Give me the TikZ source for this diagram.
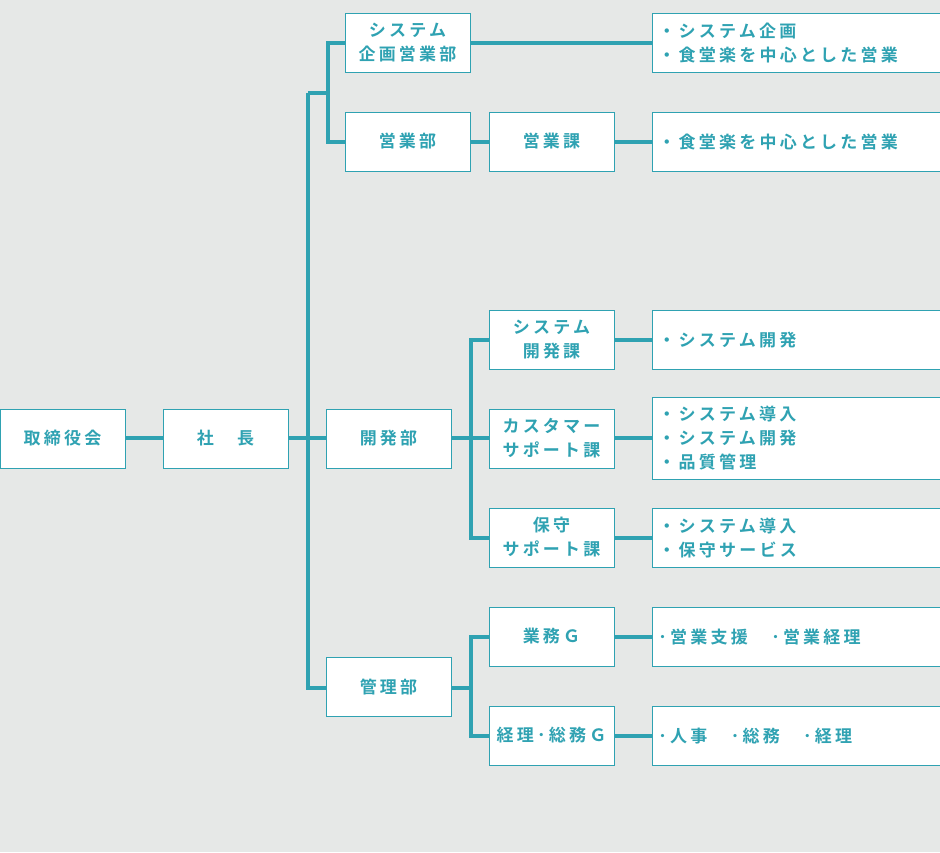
\documentclass[tikz,border=0pt]{standalone}
\usepackage{fontspec}
\newfontfamily\jp[LetterSpace=19]{Noto Sans CJK JP Bold}
\definecolor{teal1}{HTML}{2FA2B2}
\definecolor{bg}{HTML}{E6E8E7}
\begin{document}
\begin{tikzpicture}[x=1pt,y=-1pt,
 box/.style={draw=teal1,line width=0.8pt,fill=white,inner sep=0pt,font=\jp\fontsize{17}{24}\selectfont,text=teal1,align=center},
 ln/.style={draw=teal1,line width=4pt}]
\fill[bg] (0,0) rectangle (940,852);
\useasboundingbox (0,0) rectangle (940,852);
\newcommand{\bx}[6]{\node[box,minimum width=#4-#2,minimum height=#5-#3] (#1) at ({(#2+#4)/2},{(#3+#5)/2}) {#6};}
\newcommand{\rb}[5]{\node[box,minimum width=288,minimum height=#3-#2,anchor=north west,text width=282,align=left,inner xsep=6pt] (#1) at (652,#2) {#4};}
% connectors
\coordinate (p1) at (308,93); \coordinate (p2) at (308,688);
\coordinate (q1) at (328,43); \coordinate (q2) at (328,142);
\coordinate (r1) at (471,340); \coordinate (r2) at (471,538);
\coordinate (s1) at (471,637); \coordinate (s2) at (471,736);
\draw[ln] (125,438) -- (163,438);
\draw[ln] (288,438) -- (326,438);
\draw[ln] (p1) -- (p2) -- (326,688);
\draw[ln] (p1) -- (328,93);
\draw[ln] (345,43) -- (q1) -- (q2) -- (345,142);
\draw[ln] (470,43) -- (652,43);
\draw[ln] (470,142) -- (652,142);
\draw[ln] (451,438) -- (489,438);
\draw[ln] (489,340) -- (r1) -- (r2) -- (489,538);
\draw[ln] (451,688) -- (471,688);
\draw[ln] (489,637) -- (s1) -- (s2) -- (489,736);
\foreach \y in {340,438,538,637,736} \draw[ln] (614,\y) -- (652,\y);
% nodes
\bx{a}{0}{409}{125}{468}{取締役会}
\bx{b}{163}{409}{288}{468}{社　長}
\bx{c}{345}{13}{470}{72}{システム\\企画営業部}
\bx{d}{345}{112}{470}{171}{営業部}
\bx{e}{489}{112}{614}{171}{営業課}
\bx{f}{326}{409}{451}{468}{開発部}
\bx{g}{489}{310}{614}{369}{システム\\開発課}
\bx{h}{489}{409}{614}{468}{カスタマー\\サポート課}
\bx{i}{489}{508}{614}{567}{保守\\サポート課}
\bx{j}{326}{657}{451}{716}{管理部}
\bx{k}{489}{607}{614}{666}{業務Ｇ}
\bx{l}{489}{706}{614}{765}{経理･総務Ｇ}
\rb{r1b}{13}{72}{・システム企画\\・食堂楽を中心とした営業}{}
\rb{r2b}{112}{171}{・食堂楽を中心とした営業}{}
\rb{r3b}{310}{369}{・システム開発}{}
\rb{r4b}{397}{479}{・システム導入\\・システム開発\\・品質管理}{}
\rb{r5b}{508}{567}{・システム導入\\・保守サービス}{}
\rb{r6b}{607}{666}{･営業支援　･営業経理}{}
\rb{r7b}{706}{765}{･人事　･総務　･経理}{}
\end{tikzpicture}
\end{document}
